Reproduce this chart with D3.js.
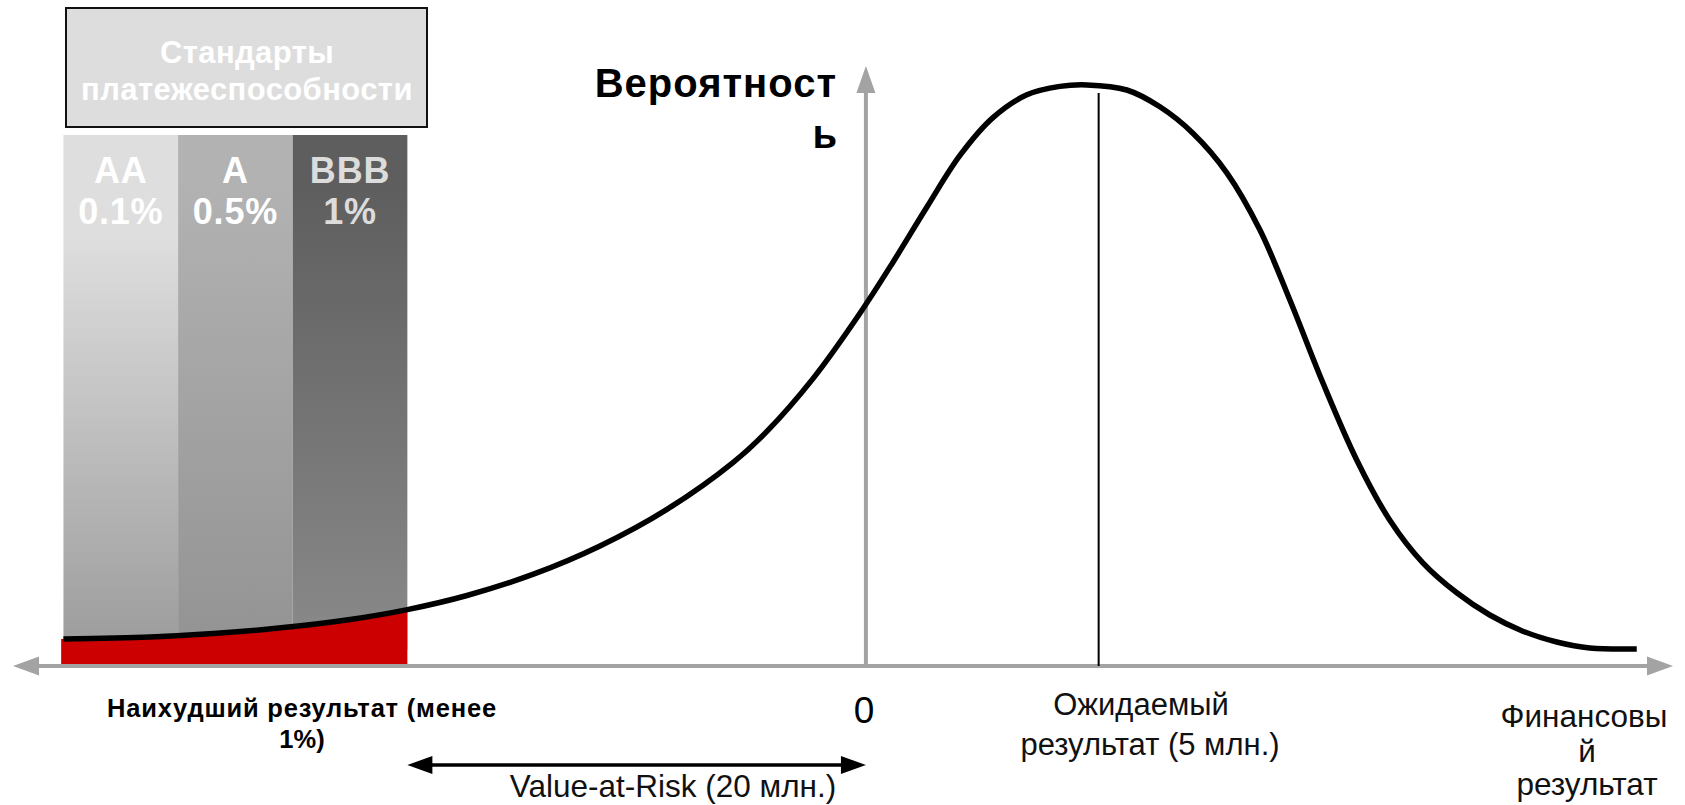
<!DOCTYPE html>
<html>
<head>
<meta charset="utf-8">
<script src="https://cdn.jsdelivr.net/npm/d3@7"></script>
<style>
  html, body { margin: 0; padding: 0; background: #fff; }
  svg { display: block; }
  text { font-family: "Liberation Sans", Arial, sans-serif; }
</style>
</head>
<body>
<svg id="chart" width="1685" height="805"></svg>
<script>
// ---- data (financial result units, probability density units) ----
const curveX = [-35, -31.2, -28.3, -25.4, -22.5, -20, -17.4, -14.5, -11.6, -8.68, -5.8, -4.32, -2.31, -0.26,
                1.18, 2.66, 4.1, 5.54, 7.02, 8.46, 9.64, 11.38, 12.82, 14.26, 15.74, 17.18, 18.49, 19.93,
                21.41, 22.85, 24.29, 25.77, 27.21, 28.65, 30.13, 31.57, 33.62];
const curveY = [4.5, 4.85, 5.45, 6.4, 7.75, 9.4, 11.75, 15.3, 20.0, 26.1, 33.9, 39.1, 47.9, 58.8,
                67.3, 76.5, 85.1, 91.4, 95.2, 96.6, 96.85, 96, 93.2, 88.8, 82.2, 72.7, 61, 47.2,
                34.3, 24.3, 17.2, 12.2, 8.5, 5.8, 4, 3, 2.83];
const ratings = ["AA", "A", "BBB"];
const ratingLevels = ["0.1%", "0.5%", "1%"];
const ratingFrom = [-35, -30, -25];
const ratingTo = [-30, -25, -20];
const varLimit = -20;        // Value-at-Risk boundary
const expectedValue = 10.15; // expected result position
const xDomain = [-37.2, 35.2];
const yDomain = [0, 100];

// ---- layout ----
const svg = d3.select("#chart");
const x = d3.scaleLinear().domain(xDomain).range([13, 1673]);
const y = d3.scaleLinear().domain(yDomain).range([666, 66]);
const axisColor = "#a3a3a3";

const pts = curveX.map((v, i) => ({ x: v, y: curveY[i] }));
const smooth = d3.curveCatmullRom.alpha(0.5);

// gradients
const gradStops = [
  ["#dedede", "#9c9c9c"],
  ["#b2b2b2", "#939393"],
  ["#5e5e5e", "#8a8a8a"]
];
const defs = svg.append("defs");
gradStops.forEach((g, i) => {
  const lg = defs.append("linearGradient").attr("id", "g" + i)
    .attr("x1", 0).attr("y1", 0).attr("x2", 0).attr("y2", 1);
  lg.append("stop").attr("offset", "0%").attr("stop-color", g[0]);
  lg.append("stop").attr("offset", i === 0 ? "20%" : "10%").attr("stop-color", g[0]);
  lg.append("stop").attr("offset", "100%").attr("stop-color", g[1]);
});

// rating columns
const colTop = 88.5, colBottom = 2.7;
svg.selectAll("rect.col").data(ratings).join("rect")
  .attr("class", "col")
  .attr("x", (d, i) => x(ratingFrom[i]))
  .attr("width", (d, i) => x(ratingTo[i]) - x(ratingFrom[i]))
  .attr("y", y(colTop))
  .attr("height", y(colBottom) - y(colTop))
  .attr("fill", (d, i) => `url(#g${i})`);

// rating labels
const labelColors = ["#ffffff", "#ffffff", "#dcdcdc"];
ratings.forEach((r, i) => {
  const cx = (x(ratingFrom[i]) + x(ratingTo[i])) / 2;
  svg.append("text").attr("x", cx).attr("y", 183)
    .attr("text-anchor", "middle").attr("font-weight", "bold")
    .attr("font-size", 36).attr("letter-spacing", 0.8)
    .attr("fill", labelColors[i]).text(r);
  svg.append("text").attr("x", cx).attr("y", 224)
    .attr("text-anchor", "middle").attr("font-weight", "bold")
    .attr("font-size", 36).attr("letter-spacing", 0.8)
    .attr("fill", labelColors[i]).text(ratingLevels[i]);
});

// title box
svg.append("rect").attr("x", 66).attr("y", 8).attr("width", 361).attr("height", 119)
  .attr("fill", "#dddddd").attr("stroke", "#111").attr("stroke-width", 2);
svg.append("text").attr("x", 247).attr("y", 63).attr("text-anchor", "middle")
  .attr("font-weight", "bold").attr("font-size", 31).attr("letter-spacing", 0.4)
  .attr("fill", "#fff").text("Стандарты");
svg.append("text").attr("x", 247).attr("y", 100).attr("text-anchor", "middle")
  .attr("font-weight", "bold").attr("font-size", 31).attr("letter-spacing", 0.4)
  .attr("fill", "#fff").text("платежеспособности");

// red tail area
const tail = pts.filter(p => p.x <= varLimit);
const area = d3.area().x(d => x(d.x)).y0(y(0) - 1).y1(d => y(d.y)).curve(smooth);
svg.append("path").datum([{ x: -35.1, y: tail[0].y }].concat(tail.slice(1)))
  .attr("d", area).attr("fill", "#cc0000");

// axes
svg.append("line").attr("x1", x(xDomain[0]) + 24).attr("x2", x(xDomain[1]) - 24)
  .attr("y1", y(0)).attr("y2", y(0)).attr("stroke", axisColor).attr("stroke-width", 4);
svg.append("path")
  .attr("d", `M${x(xDomain[0])},${y(0)} l26,-9.5 l0,19 Z`).attr("fill", axisColor);
svg.append("path")
  .attr("d", `M${x(xDomain[1])},${y(0)} l-26,-9.5 l0,19 Z`).attr("fill", axisColor);
svg.append("line").attr("x1", x(0)).attr("x2", x(0))
  .attr("y1", y(0)).attr("y2", y(yDomain[1]) + 24).attr("stroke", axisColor).attr("stroke-width", 4);
svg.append("path")
  .attr("d", `M${x(0)},${y(yDomain[1])} l-9.5,27 l19,0 Z`).attr("fill", axisColor);

// expected value line
svg.append("line").attr("x1", x(expectedValue)).attr("x2", x(expectedValue))
  .attr("y1", y(0)).attr("y2", y(95.5)).attr("stroke", "#000").attr("stroke-width", 2);

// curve
const line = d3.line().x(d => x(d.x)).y(d => y(d.y)).curve(smooth);
svg.append("path").datum(pts).attr("d", line)
  .attr("fill", "none").attr("stroke", "#000").attr("stroke-width", 5.5);

// axis titles
svg.append("text").attr("x", 837).attr("y", 97).attr("text-anchor", "end")
  .attr("font-weight", "bold").attr("font-size", 40).attr("letter-spacing", 1)
  .attr("fill", "#000").text("Вероятност");
svg.append("text").attr("x", 837).attr("y", 148).attr("text-anchor", "end")
  .attr("font-weight", "bold").attr("font-size", 40)
  .attr("fill", "#000").text("ь");

// zero label
svg.append("text").attr("x", x(0) - 2).attr("y", 723).attr("text-anchor", "middle")
  .attr("font-size", 37).attr("fill", "#000").text("0");

// worst result label
svg.append("text").attr("x", 302).attr("y", 717).attr("text-anchor", "middle")
  .attr("font-weight", "bold").attr("font-size", 25.5).attr("letter-spacing", 0.8)
  .attr("fill", "#000").text("Наихудший результат (менее");
svg.append("text").attr("x", 302).attr("y", 748).attr("text-anchor", "middle")
  .attr("font-weight", "bold").attr("font-size", 25.5)
  .attr("fill", "#000").text("1%)");

// expected label
svg.append("text").attr("x", 1141).attr("y", 715).attr("text-anchor", "middle")
  .attr("font-size", 31).attr("fill", "#111").text("Ожидаемый");
svg.append("text").attr("x", 1150).attr("y", 755).attr("text-anchor", "middle")
  .attr("font-size", 31).attr("fill", "#111").text("результат (5 млн.)");

// x axis title
svg.append("text").attr("x", 1584).attr("y", 727).attr("text-anchor", "middle")
  .attr("font-size", 31.5).attr("fill", "#111").text("Финансовы");
svg.append("text").attr("x", 1587).attr("y", 762).attr("text-anchor", "middle")
  .attr("font-size", 31.5).attr("fill", "#111").text("й");
svg.append("text").attr("x", 1587).attr("y", 795).attr("text-anchor", "middle")
  .attr("font-size", 31.5).attr("fill", "#111").text("результат");

// VaR arrow
const vy = 765;
svg.append("line").attr("x1", x(varLimit) + 20).attr("x2", x(0) - 20)
  .attr("y1", vy).attr("y2", vy).attr("stroke", "#000").attr("stroke-width", 3.5);
svg.append("path").attr("d", `M${x(varLimit)},${vy} l25,-9 l0,18 Z`).attr("fill", "#000");
svg.append("path").attr("d", `M${x(0)},${vy} l-25,-9 l0,18 Z`).attr("fill", "#000");
svg.append("text").attr("x", 673).attr("y", 797).attr("text-anchor", "middle")
  .attr("font-size", 31.5).attr("fill", "#111").text("Value-at-Risk (20 млн.)");
</script>
</body>
</html>
